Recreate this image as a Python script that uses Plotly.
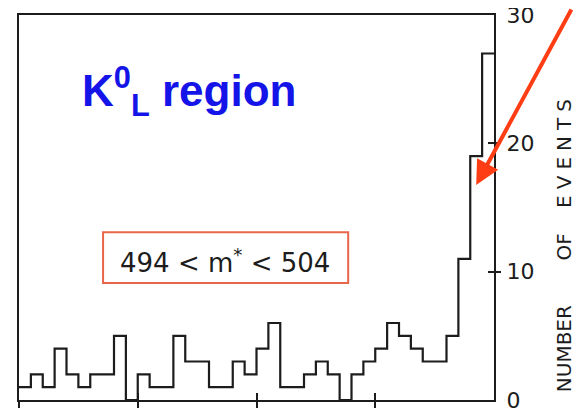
import plotly.graph_objects as go

# ---- data ----
bin_edges = [0, 1, 2, 3, 4, 5, 6, 7, 8, 9, 10, 11, 12, 13, 14, 15, 16, 17, 18, 19, 20,
             21, 22, 23, 24, 25, 26, 27, 28, 29, 30, 31, 32, 33, 34, 35, 36, 37, 38, 39, 40]
counts = [1, 2, 1, 4, 2, 1, 2, 2, 5, 0,
          2, 1, 1, 5, 3, 3, 1, 1, 3, 2,
          4, 6, 1, 1, 2, 3, 2, 0, 2, 3,
          4, 6, 5, 4, 3, 3, 5, 11, 19, 27]
x_tick_vals = [0, 10, 20, 30]
y_tick_vals = [0, 10, 20, 30]
y_tick_text = ["0", "10", "20", "30"]
y_mark_vals = [10, 20]

INK = "#1c1c1c"
step_y = counts + [counts[-1]]

fig = go.Figure()
fig.add_trace(go.Scatter(x=bin_edges, y=step_y, mode="lines",
                         line=dict(shape="hv", color=INK, width=2.2),
                         hoverinfo="skip", showlegend=False))
# empty traces so the overlay axes (for crossing tick marks) exist
fig.add_trace(go.Scatter(x=[], y=[], xaxis="x2", yaxis="y", showlegend=False))
fig.add_trace(go.Scatter(x=[], y=[], xaxis="x", yaxis="y2", showlegend=False))
fig.add_trace(go.Scatter(x=[], y=[], xaxis="x", yaxis="y3", showlegend=False))

tickfont = dict(family="DejaVu Sans", size=22, color=INK)

# the page body adds an 8 px margin, so the margins are shifted by 8 px
fig.update_layout(
    width=583, height=408,
    margin=dict(l=11, r=97, t=7, b=16, autoexpand=False),
    paper_bgcolor="white", plot_bgcolor="white",
    showlegend=False,
    xaxis=dict(range=[0, 40], showline=True, linecolor=INK, linewidth=2, mirror=True,
               tickmode="array", tickvals=x_tick_vals, ticks="outside", ticklen=8,
               tickwidth=2, tickcolor=INK, showticklabels=False, automargin=False,
               showgrid=False, zeroline=False, fixedrange=True),
    xaxis2=dict(range=[0, 40], overlaying="x", anchor="y", side="bottom",
                tickmode="array", tickvals=x_tick_vals, ticks="inside", ticklen=7,
                tickwidth=2, tickcolor=INK, showticklabels=False, showline=False,
                automargin=False, showgrid=False, zeroline=False),
    yaxis=dict(range=[0, 30], side="right", anchor="x", showline=True, linecolor=INK,
               linewidth=2, mirror=True, tickmode="array", tickvals=y_tick_vals,
               ticktext=y_tick_text, ticks="", ticklabelstandoff=6, tickfont=tickfont,
               ticklabeloverflow="allow",
               automargin=False, showgrid=False, zeroline=False),
    yaxis2=dict(range=[0, 30], overlaying="y", side="right", anchor="x",
                tickmode="array", tickvals=y_mark_vals, ticks="outside", ticklen=6,
                tickwidth=2, tickcolor=INK, showticklabels=False, showline=False,
                automargin=False, showgrid=False, zeroline=False),
    yaxis3=dict(range=[0, 30], overlaying="y", side="right", anchor="x",
                tickmode="array", tickvals=y_mark_vals, ticks="inside", ticklen=6,
                tickwidth=2, tickcolor=INK, showticklabels=False, showline=False,
                automargin=False, showgrid=False, zeroline=False),
)

# red box around the mass window
fig.add_shape(type="rect", xref="paper", yref="paper",
              x0=0.177, x1=0.693, y0=0.304, y1=0.436,
              line=dict(color="#E8654A", width=2), fillcolor="rgba(0,0,0,0)")

fig.add_annotation(xref="paper", yref="paper", x=0.434, y=0.362,
                   xanchor="center", yanchor="middle",
                   text="494 < m<sup>*</sup> < 504", showarrow=False,
                   font=dict(family="DejaVu Sans", size=26, color=INK))

fig.add_annotation(xref="paper", yref="paper", x=0.128, y=0.80,
                   xanchor="left", yanchor="middle",
                   text="<b>K<sup>0</sup><sub>L</sub> region</b>", showarrow=False,
                   font=dict(family="Liberation Sans", size=44, color="#1414E8"))

# y-axis title on the right
fig.add_annotation(xref="paper", yref="paper", x=1.148, y=0.408, textangle=-90,
                   xanchor="center", yanchor="middle",
                   text="NUMBER\u00a0\u00a0\u00a0\u00a0\u00a0\u00a0\u00a0OF\u00a0\u00a0\u00a0\u00a0"
                        "<span style='letter-spacing:6px'>EVENTS</span>",
                   showarrow=False,
                   font=dict(family="DejaVu Sans", size=20, color=INK))

# red arrow pointing at the peak
fig.add_annotation(xref="x", yref="y", x=38.5, y=16.75, ax=96, ay=-200,
                   text="", showarrow=True, arrowhead=2, arrowsize=1.2,
                   arrowwidth=4, arrowcolor="#FF3D14", standoff=0)

fig.write_html("out.html")
